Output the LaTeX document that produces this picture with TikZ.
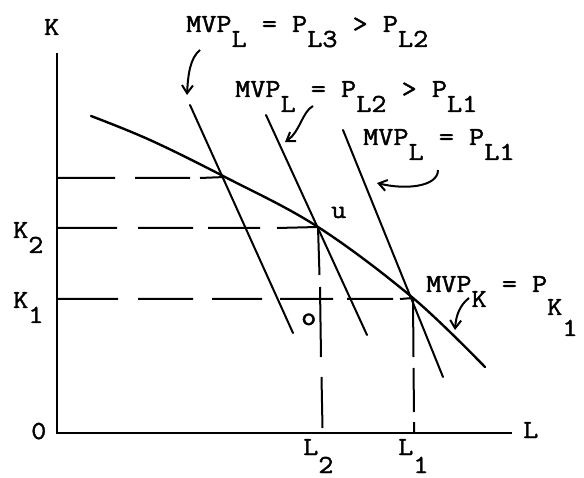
\documentclass[tikz,border=0pt]{standalone}
\usepackage{fontspec}
\newfontfamily\tw{Latin Modern Mono}[FakeStretch=1.13, FakeBold=1.6]
\usetikzlibrary{arrows.meta}
\newcommand\dn[2][15pt]{\raisebox{-#1}{#2}}
\begin{document}
\begin{tikzpicture}[x=1pt,y=-1pt,
  lbl/.style={inner sep=0pt, anchor=base west, font=\tw\fontsize{26}{26}\selectfont},
  ax/.style={line width=2.4pt},
  curve/.style={line width=2.4pt, line cap=round},
  pline/.style={line width=2pt, line cap=round},
  dsh/.style={line width=2pt},
  pointer/.style={line width=2pt, -{Straight Barb[length=8pt,width=11pt,line width=2pt]}}
]
\useasboundingbox (0,0) rectangle (584,478);

% axes
\coordinate (O) at (57,433);
\coordinate (Ktop) at (57,53);
\coordinate (Lend) at (512,433);
\draw[ax] (Ktop) -- (O) -- (Lend);

% key points
\coordinate (A) at (225,177);
\coordinate (U) at (318,227);
\coordinate (E) at (413,298);

% curve
\draw[curve] plot[smooth, tension=0.6] coordinates {(91,116) (150,140) (A) (U) (E) (485,367)};

% price lines
\coordinate (l1a) at (190,105); \coordinate (l1b) at (293,333);
\coordinate (l2a) at (266,115); \coordinate (l2b) at (367,335);
\coordinate (l3a) at (343,130); \coordinate (l3b) at (443,377);
\draw[pline] (l1a) -- (l1b);
\draw[pline] (l2a) -- (l2b);
\draw[pline] (l3a) -- (l3b);

% horizontal dashed lines
\draw[dsh] (58,178) -- (115,178) (135,178) -- (190,178) (200,178) -- (A);
\draw[dsh] (58,228) -- (117,228) (138,228) -- (193,228) (208,228) -- (260,228) (277,228) -- (U);
\draw[dsh] (58,299) -- (118,299) (138,299) -- (193,299) (212,299) -- (262,299) (280,299) -- (333,299) (347,299) -- (393,299) (400,299) -- (E);
% vertical dashed lines
\draw[dsh] (U) -- (319.5,275) (320,287) -- (321,357) (321.5,377) -- (322.5,428);
\draw[dsh] (E) -- (413.5,357) (413.5,368) -- (414,412) (414,422) -- (414,433);

% axis labels
\node[lbl] (k) at (44,35) {K};
\node[lbl] (zero) at (31,439) {0};
\node[lbl] (l) at (523,438) {L};
\node[lbl] (k2) at (13,238) {K\dn{2}};
\node[lbl] (k1) at (13,308) {K\dn{1}};
\node[lbl] (L2) at (303,455) {L\dn[18pt]{2}};
\node[lbl] (L1) at (398,455) {L\dn[18pt]{1}};
\node[lbl] (u) at (331,218) {u};
\node[lbl] (o) at (301,325) {o};

% price labels
\node[lbl] (t1) at (186,32) {MVP\dn{L} = P\dn{L3} > P\dn{L2}};
\node[lbl] (t2) at (235,97) {MVP\dn{L} = P\dn{L2} > P\dn{L1}};
\node[lbl] (t3) at (363,145) {MVP\dn{L} = P\dn{L1}};
\node[lbl] (t4) at (426,292) {MVP\dn{K} = P\dn[23pt]{K\dn[21pt]{1}}};

% pointers
\coordinate (a1s) at (200,50);  \coordinate (a1e) at (187,95);
\coordinate (a2s) at (313,106); \coordinate (a2e) at (285,142);
\coordinate (a3s) at (438,170); \coordinate (a3e) at (377,183);
\coordinate (a4s) at (469,298); \coordinate (a4e) at (455,330);
\draw[pointer] (a1s) .. controls (190,58) and (188,75) .. (a1e);
\draw[pointer] (a2s) .. controls (302,112) and (300,132) .. (a2e);
\draw[pointer] (a3s) .. controls (438,187) and (405,190) .. (a3e);
\draw[pointer] (a4s) .. controls (460,305) and (456,315) .. (a4e);
\end{tikzpicture}
\end{document}
